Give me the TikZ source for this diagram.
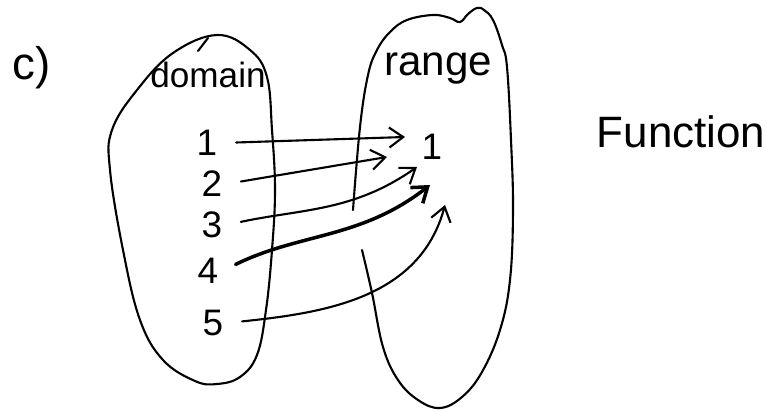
\documentclass[tikz,border=0pt]{standalone}
\usepackage{fontspec}
\setmainfont{Liberation Sans}
\usetikzlibrary{arrows.meta,positioning}

\begin{document}
\begin{tikzpicture}[
  x=0.02cm, y=-0.02cm,
  pen/.style={line width=1.2pt, line cap=round, line join=round},
  elem/.style={inner sep=2pt, font=\fontsize{21}{25}\selectfont},
  setname/.style={inner sep=0pt, anchor=base, font=\fontsize{20}{24}\selectfont},
  mapsto/.style={pen, -{Straight Barb[length=2.8mm, width=4mm]}, shorten <=3mm}
]
\useasboundingbox (0,0) rectangle (765,411);

\node [font=\fontsize{26}{30}\selectfont] (part) at (32,68) {c)};
\node [font=\fontsize{25}{30}\selectfont] (kind) at (681,132) {Function};

% domain
\draw [pen] plot [smooth cycle, tension=0.65] coordinates {
  (217,35) (250,50) (267,77) (272,130) (275,190) (272,250) (266,310)
  (257,355) (240,377) (217,384) (195,381) (163,360) (140,320) (123,250)
  (110,170) (112,130) (137,90) (173,53)};
\draw [pen] (208,38) -- (198,51);
\node [setname] (dom) at (208,88) {domain};

% range
\draw [pen] plot [smooth, tension=0.65] coordinates {
  (362,250) (372,293) (383,347) (398,380) (418,400) (440,408) (462,397)
  (482,372) (500,330) (510,280) (513,210) (511,140) (507,67) (502,45)
  (493,20) (484,10) (477,8) (468,14) (460,22) (450,18) (433,15) (407,20)
  (390,32) (377,50) (368,75) (360,127) (353,210)};
\node [setname, font=\fontsize{24}{28}\selectfont] (rng) at (438,76) {range};

\node [elem] (d1) at (207,143) {1};
\node [elem] (d2) at (212,184) {2};
\node [elem] (d3) at (212,225) {3};
\node [elem] (d4) at (208,271) {4};
\node [elem] (d5) at (213,323) {5};
\node [elem] (r1) at (432,147) {1};

\coordinate (t1) at (405,137);
\coordinate (t2) at (387,157);
\coordinate (t3) at (417,167);
\coordinate (t4) at (430,185);
\coordinate (t5) at (445,205);

\draw [mapsto] (d1.east) -- (t1);
\draw [mapsto] (d2.east) -- (t2);
\draw [mapsto] (d3.east) to [out=12, in=215] (t3);
\draw [mapsto, line width=2pt] (d4.east) to [out=26, in=218] (t4);
\draw [mapsto] (d5.east) to [out=6, in=255] (t5);
\end{tikzpicture}
\end{document}
